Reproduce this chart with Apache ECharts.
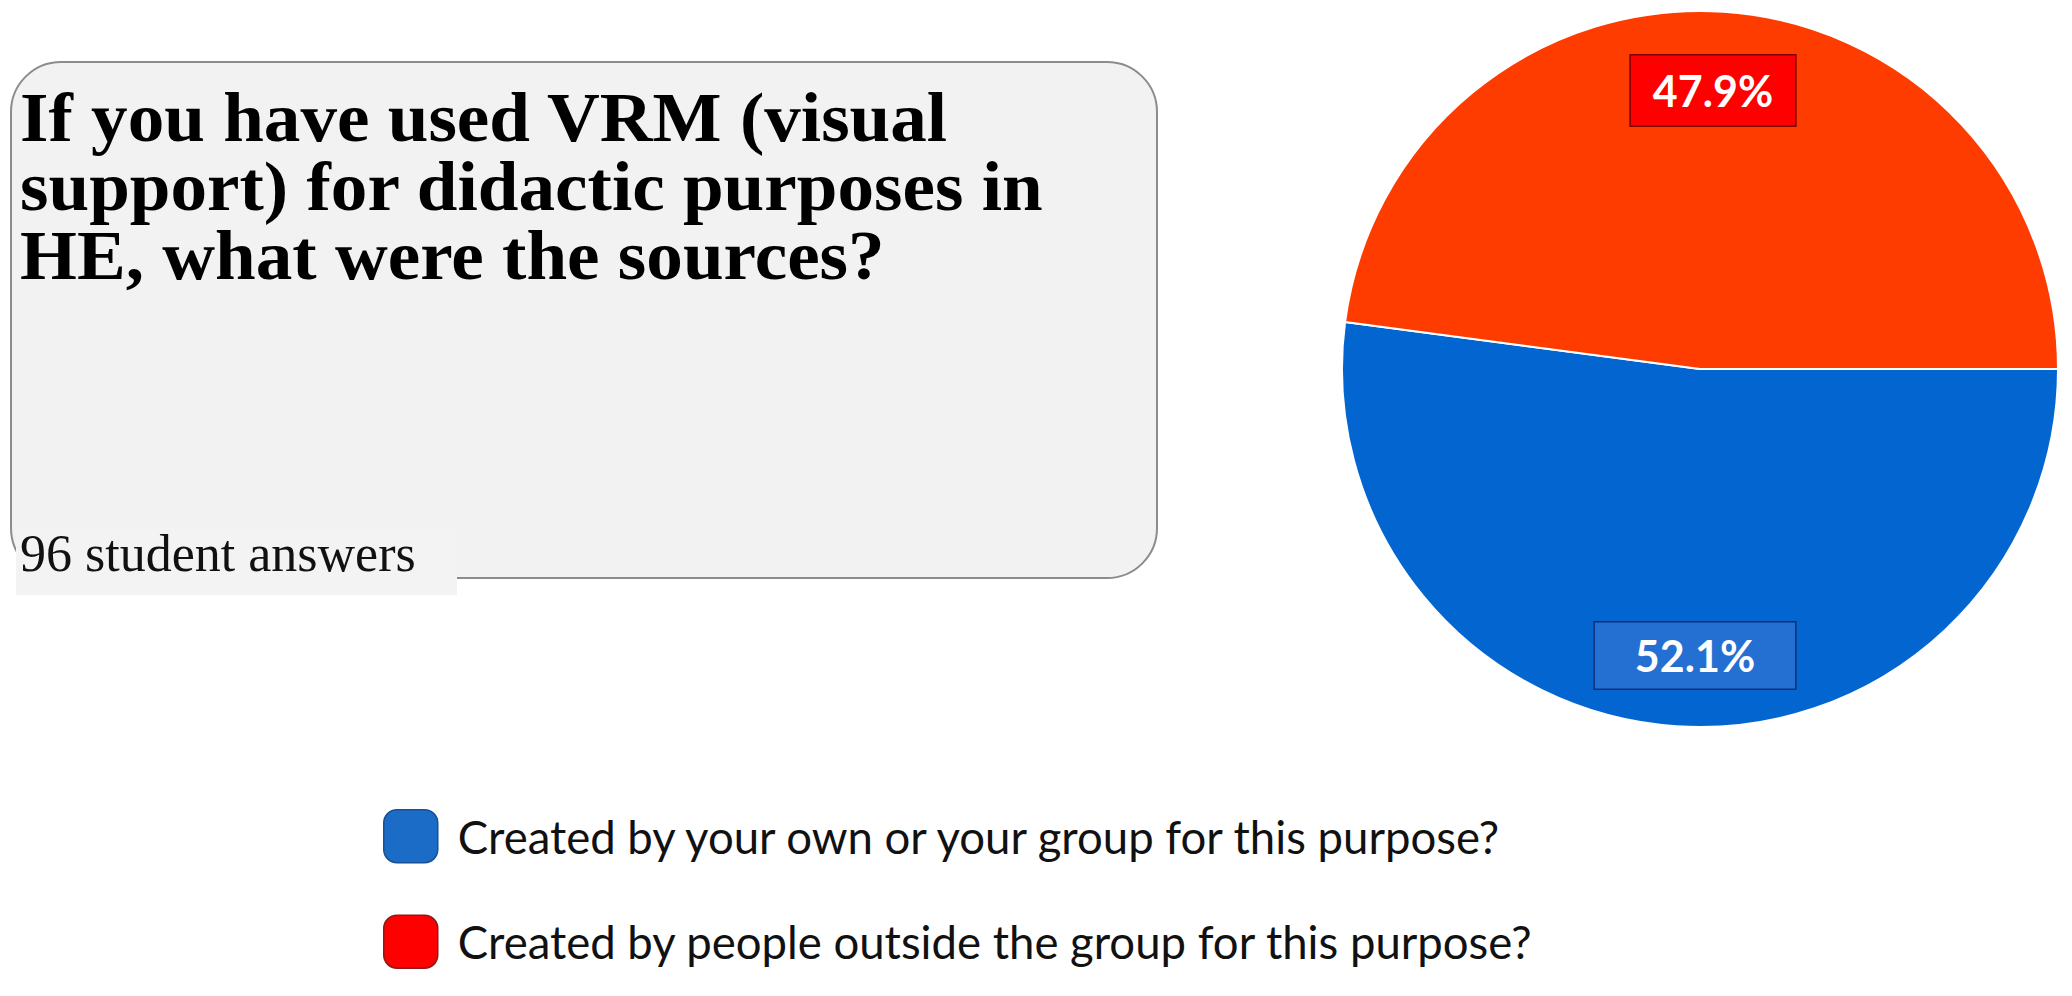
<!DOCTYPE html>
<html>
<head>
<meta charset="utf-8">
<script src="https://cdn.jsdelivr.net/npm/echarts@6/dist/echarts.min.js"></script>
<style>
  html, body { margin: 0; padding: 0; background: #ffffff; }
  #chart { width: 2072px; height: 996px; }
</style>
</head>
<body>
<div id="chart"></div>
<script>
  // data
  var categories = [
    'Created by your own or your group for this purpose?',
    'Created by people outside the group for this purpose?'
  ];
  var shares = [52.1, 47.9];
  var questionLines = [
    'If you have used VRM (visual',
    'support) for didactic purposes in',
    'HE, what were the sources?'
  ];
  var answerNote = '96 student answers';

  // colours
  var sliceColors = ['#0366d0', '#ff3c00'];
  var legendColors = ['#1b6cc6', '#ff0000'];
  var legendBorders = ['#1a4f93', '#8b1a1a'];
  var boxColors = ['#2470d2', '#ff0000'];
  var boxBorders = ['#0b2f7a', '#7a0000'];
  var boxPadding = [[12, 40], [14, 22]];
  var labelShift = [[7, 105], [1, -97]];

  var chart = echarts.init(document.getElementById('chart'), null, { renderer: 'svg' });

  var pieData = categories.map(function (name, i) {
    return {
      name: name,
      value: shares[i],
      itemStyle: { color: sliceColors[i] },
      label: {
        backgroundColor: boxColors[i],
        borderColor: boxBorders[i],
        borderWidth: 1.5,
        padding: boxPadding[i]
      }
    };
  });

  var option = {
    backgroundColor: '#ffffff',
    animation: false,
    title: {
      text: answerNote,
      left: 20,
      top: 527,
      padding: 0,
      textStyle: {
        fontFamily: 'Liberation Serif',
        fontWeight: 'normal',
        fontSize: 52,
        lineHeight: 52,
        color: '#111111'
      }
    },
    graphic: [
      {
        type: 'rect',
        z: -10,
        shape: { x: 11, y: 62, width: 1146, height: 516, r: 50 },
        style: { fill: '#f2f2f2', stroke: '#8c8c8c', lineWidth: 2 }
      },
      {
        // patch behind the answer count, it hides the box's lower edge
        type: 'rect',
        z: -9,
        shape: { x: 16, y: 526, width: 441, height: 69 },
        style: { fill: '#f3f3f3' }
      },
      {
        // the question, a little stretched sideways like the original
        type: 'text',
        x: 20,
        y: 83,
        scaleX: 1.06,
        style: {
          text: questionLines.join('\n'),
          fontFamily: 'Liberation Serif',
          fontWeight: 'bold',
          fontSize: 69,
          lineHeight: 69,
          fill: '#000000',
          verticalAlign: 'top',
          align: 'left'
        }
      }
    ],
    legend: {
      orient: 'vertical',
      left: 383,
      top: 809,
      padding: 0,
      itemWidth: 54,
      itemHeight: 53,
      itemGap: 51,
      icon: 'roundRect',
      selectedMode: false,
      textStyle: {
        fontFamily: 'Lato',
        fontSize: 45.5,
        color: '#111111',
        padding: [0, 0, 0, 15]
      },
      data: categories.map(function (name, i) {
        return {
          name: name,
          itemStyle: { color: legendColors[i], borderColor: legendBorders[i], borderWidth: 1.5 }
        };
      })
    },
    series: [
      {
        type: 'pie',
        center: [1700, 369],
        radius: [0, 358],
        startAngle: 0,
        clockwise: true,
        silent: true,
        itemStyle: { borderColor: '#ffffff', borderWidth: 2 },
        label: {
          show: true,
          position: 'inside',
          formatter: function (p) { return p.value.toFixed(1) + '%'; },
          fontFamily: 'Lato',
          fontWeight: 'bold',
          fontSize: 43,
          lineHeight: 42,
          color: '#ffffff'
        },
        labelLine: { show: false },
        labelLayout: function (p) {
          return { dx: labelShift[p.dataIndex][0], dy: labelShift[p.dataIndex][1] };
        },
        data: pieData
      }
    ]
  };

  chart.setOption(option);
</script>
</body>
</html>
